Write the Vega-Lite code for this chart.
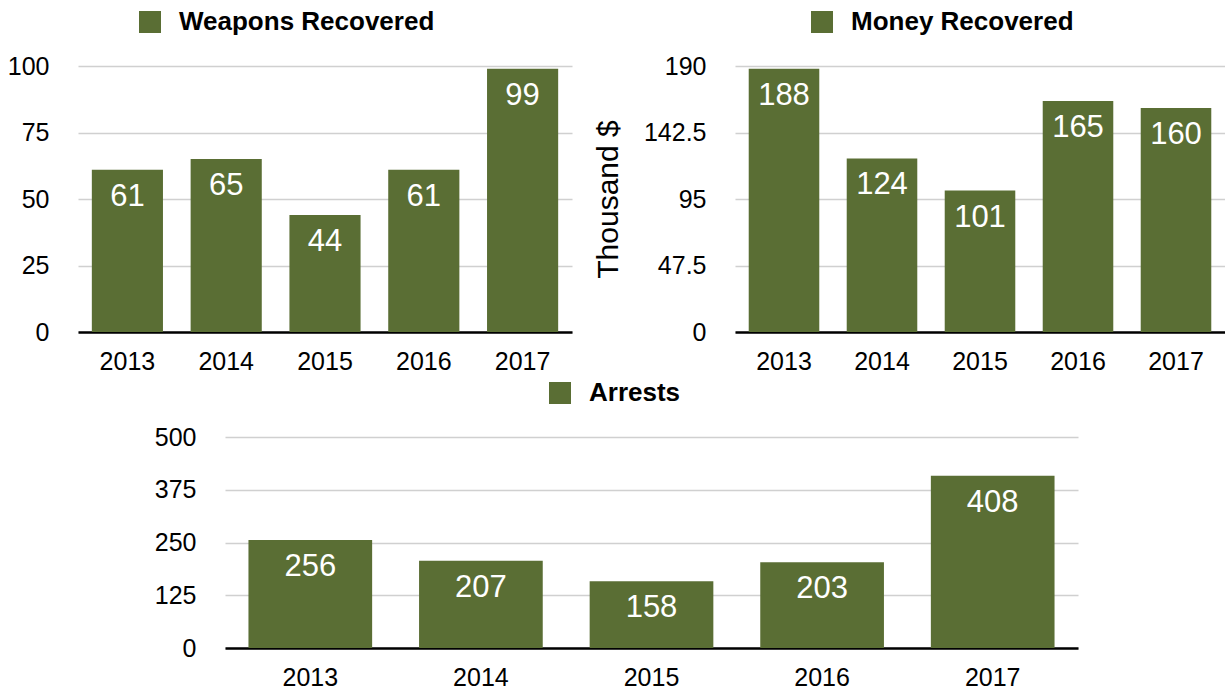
{
  "$schema": "https://vega.github.io/schema/vega-lite/v6.json",
  "padding": {"left": 7, "top": 9, "right": 0, "bottom": 0},
  "center": true,
  "spacing": 6,
  "resolve": {"scale": {"color": "independent"}, "legend": {"color": "independent"}},
  "datasets": {
    "weapons": [
      {"year": "2013", "value": 61, "series": "Weapons Recovered"},
      {"year": "2014", "value": 65, "series": "Weapons Recovered"},
      {"year": "2015", "value": 44, "series": "Weapons Recovered"},
      {"year": "2016", "value": 61, "series": "Weapons Recovered"},
      {"year": "2017", "value": 99, "series": "Weapons Recovered"}
    ],
    "money": [
      {"year": "2013", "value": 188, "series": "Money Recovered"},
      {"year": "2014", "value": 124, "series": "Money Recovered"},
      {"year": "2015", "value": 101, "series": "Money Recovered"},
      {"year": "2016", "value": 165, "series": "Money Recovered"},
      {"year": "2017", "value": 160, "series": "Money Recovered"}
    ],
    "arrests": [
      {"year": "2013", "value": 256, "series": "Arrests"},
      {"year": "2014", "value": 207, "series": "Arrests"},
      {"year": "2015", "value": 158, "series": "Arrests"},
      {"year": "2016", "value": 203, "series": "Arrests"},
      {"year": "2017", "value": 408, "series": "Arrests"}
    ]
  },
  "vconcat": [
    {
      "hconcat": [
        {
          "width": 494,
          "height": 266,
          "data": {"name": "weapons"},
          "encoding": {
            "x": {"field": "year", "type": "ordinal", "scale": {"paddingInner": 0.28, "paddingOuter": 0.14}, "axis": {"title": null}},
            "y": {"field": "value", "type": "quantitative", "scale": {"domain": [0, 100], "nice": false}, "axis": {"title": null, "values": [0, 25, 50, 75, 100], "labelExpr": "'' + datum.value"}}
          },
          "layer": [
            {
              "mark": {"type": "bar"},
              "encoding": {
                "color": {"field": "series", "type": "nominal", "scale": {"range": ["#5a6e34"]}, "legend": {"legendX": 59, "legendY": -57}}
              }
            },
            {
              "mark": {"type": "text", "color": "white", "fontSize": 31, "dy": 27, "baseline": "middle"},
              "encoding": {"text": {"field": "value", "type": "quantitative"}}
            }
          ]
        },
        {
          "width": 490,
          "height": 266,
          "data": {"name": "money"},
          "encoding": {
            "x": {"field": "year", "type": "ordinal", "scale": {"paddingInner": 0.28, "paddingOuter": 0.14}, "axis": {"title": null}},
            "y": {"field": "value", "type": "quantitative", "scale": {"domain": [0, 190], "nice": false}, "axis": {"title": "Thousand $", "values": [0, 47.5, 95, 142.5, 190], "labelExpr": "'' + datum.value"}}
          },
          "layer": [
            {
              "mark": {"type": "bar"},
              "encoding": {
                "color": {"field": "series", "type": "nominal", "scale": {"range": ["#5a6e34"]}, "legend": {"legendX": 74, "legendY": -57}}
              }
            },
            {
              "mark": {"type": "text", "color": "white", "fontSize": 31, "dy": 27, "baseline": "middle"},
              "encoding": {"text": {"field": "value", "type": "quantitative"}}
            }
          ]
        }
      ],
      "spacing": 21,
      "resolve": {"scale": {"color": "independent"}, "legend": {"color": "independent"}}
    },
    {
      "width": 853,
      "height": 211,
      "data": {"name": "arrests"},
      "encoding": {
        "x": {"field": "year", "type": "ordinal", "scale": {"paddingInner": 0.275, "paddingOuter": 0.1375}, "axis": {"title": null}},
        "y": {"field": "value", "type": "quantitative", "scale": {"domain": [0, 500], "nice": false}, "axis": {"title": null, "values": [0, 125, 250, 375, 500], "labelExpr": "'' + datum.value"}}
      },
      "layer": [
        {
          "mark": {"type": "bar"},
          "encoding": {
            "color": {"field": "series", "type": "nominal", "scale": {"range": ["#5a6e34"]}, "legend": {"legendX": 322, "legendY": -57}}
          }
        },
        {
          "mark": {"type": "text", "color": "white", "fontSize": 31, "dy": 27, "baseline": "middle"},
          "encoding": {"text": {"field": "value", "type": "quantitative"}}
        }
      ]
    }
  ],
  "config": {
    "font": "Liberation Sans",
    "view": {"stroke": null},
    "axis": {
      "labelFont": "Liberation Sans",
      "labelFontSize": 25,
      "labelColor": "#000000",
      "ticks": false,
      "titleFont": "Liberation Sans",
      "titleFontSize": 30,
      "titleFontWeight": "normal",
      "titleColor": "#000000"
    },
    "axisX": {
      "domain": true,
      "domainColor": "#000000",
      "domainWidth": 2.5,
      "grid": false,
      "labelAngle": 0,
      "labelPadding": 17
    },
    "axisY": {
      "domain": false,
      "grid": true,
      "gridColor": "#d0d0d0",
      "gridWidth": 1.5,
      "labelPadding": 29,
      "titlePadding": 20
    },
    "legend": {
      "orient": "none",
      "title": null,
      "symbolType": "square",
      "symbolSize": 484,
      "symbolStrokeWidth": 0,
      "labelFont": "Liberation Sans",
      "labelFontSize": 26,
      "labelFontWeight": "bold",
      "labelColor": "#000000",
      "labelOffset": 16,
      "labelLimit": 500,
      "padding": 0
    }
  }
}
